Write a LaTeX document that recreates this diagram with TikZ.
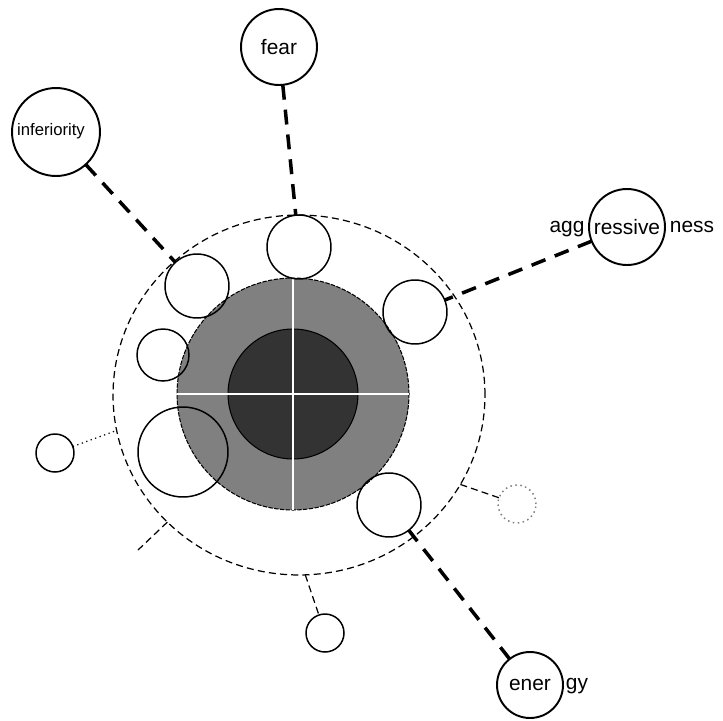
\documentclass[tikz,border=0pt]{standalone}
\usepackage{fontspec}
\setmainfont{Liberation Sans}
\usetikzlibrary{shapes.geometric}

\begin{document}
\begin{tikzpicture}[x=0.02cm, y=-0.02cm,
  ball/.style = {draw, circle, inner sep=0pt, outer sep=0pt, line width=0.85pt},
  topic/.style = {draw, circle, inner sep=0pt, outer sep=0pt, line width=1.1pt, font=\fontsize{11.9}{14}\selectfont},
  word/.style = {inner sep=0pt, anchor=base, font=\fontsize{11.9}{14}\selectfont},
  link/.style = {line width=2pt, dash pattern=on 8.5pt off 5.7pt},
  thin link/.style = {line width=0.7pt, dash pattern=on 4pt off 2.4pt}]
  \useasboundingbox (0,0) rectangle (723,720);

  \node[draw, ellipse, thin link, minimum width=7.44cm, minimum height=7.2cm, inner sep=0pt, outer sep=0pt] (ring) at (299,395) {};

  \node[draw, circle, fill=gray, line width=0.6pt, dash pattern=on 2.5pt off 0.8pt, minimum size=4.64cm, inner sep=0pt, outer sep=0pt] (core) at (293,394) {};
  \node[draw, circle, fill=black!80, line width=0.6pt, minimum size=2.6cm, inner sep=0pt, outer sep=0pt] (heart) at (293,394) {};
  \draw[white, line width=1.2pt] (core.west) -- (core.east);
  \draw[white, line width=1.2pt] (core.north) -- (core.south);

  \node[ball, minimum size=1.28cm] (b1) at (299,247) {};
  \node[ball, minimum size=1.28cm] (b2) at (197,286) {};
  \node[ball, minimum size=1.28cm] (b3) at (415,312) {};
  \node[ball, minimum size=1.04cm] (b4) at (163,355) {};
  \node[ball, minimum size=1.8cm] (b5) at (183,452) {};
  \node[ball, minimum size=1.28cm] (b6) at (389,505) {};

  \node[ball, minimum size=0.76cm] (o1) at (55,453) {};
  \node[ball, minimum size=0.76cm] (o2) at (325,633) {};
  \node[ball, draw=gray, dotted, minimum size=0.76cm] (o3) at (517,504) {};
  \coordinate (stub) at (138,550);

  \node[topic, minimum size=1.52cm] (fear) at (279,47) {fear};
  \node[topic, minimum size=1.76cm] (inf) at (56,132) {};
  \node[word, font=\fontsize{9.5}{11}\selectfont] (infw) at (51,135) {inferiority};
  \node[topic, minimum size=1.52cm] (agg) at (627,227) {ressive};
  \node[word] (aggl) at (567,232) {agg};
  \node[word] (aggr) at (692,232) {ness};
  \node[topic, minimum size=1.32cm] (ener) at (530,685) {ener};
  \node[word] (enerr) at (577,689) {gy};

  \draw[link] (fear) -- (b1);
  \draw[link] (inf) -- (b2);
  \draw[link] (agg) -- (b3);
  \draw[link] (ener) -- (b6);

  \draw[line width=0.7pt, dotted] (o1) -- (ring.191.7);
  \draw[thin link] (ring.224) -- (stub);
  \draw[thin link] (ring.-88) -- (o2);
  \draw[thin link] (ring.-29) -- (o3);

\end{tikzpicture}
\end{document}
